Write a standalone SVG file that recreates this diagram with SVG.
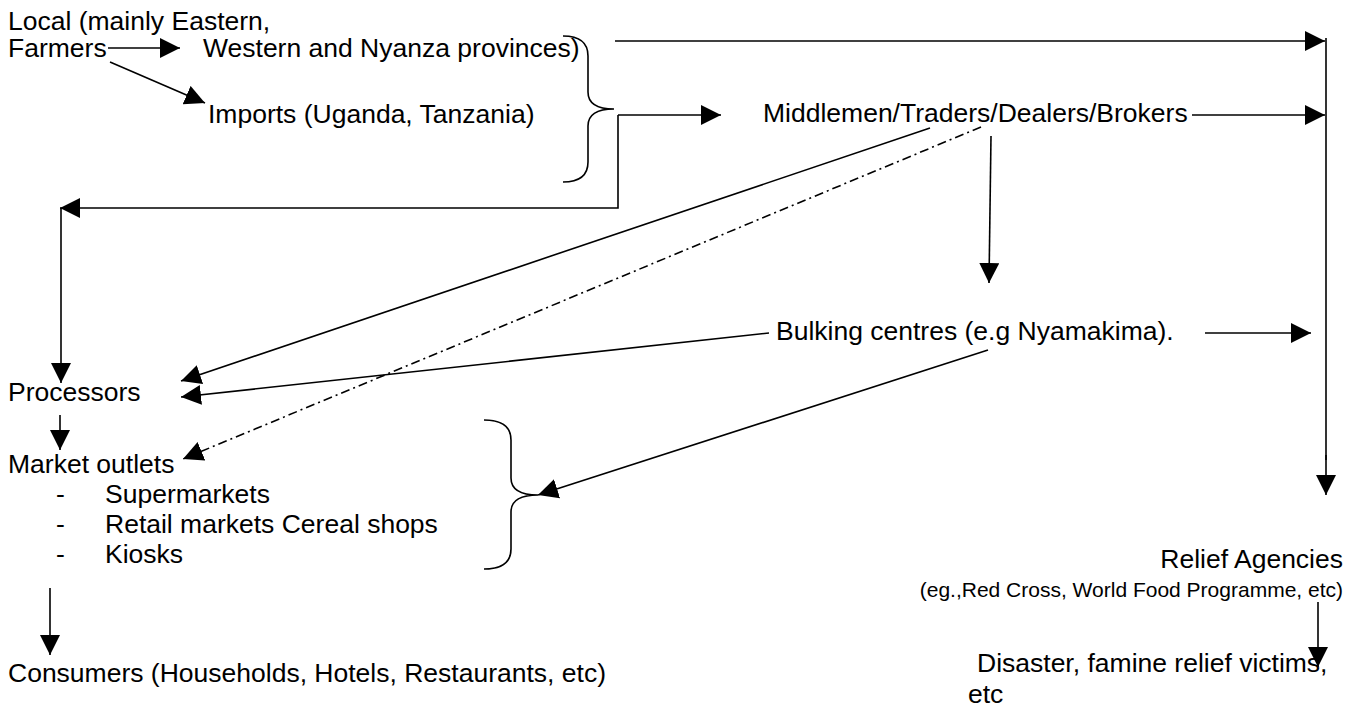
<svg xmlns="http://www.w3.org/2000/svg" width="1361" height="715" viewBox="0 0 1361 715">
<style>
text { font-family: "Liberation Sans", Arial, sans-serif; font-size: 26.5px; fill: #000; }
.small { font-size: 21px; }
.ln { stroke: #000; stroke-width: 1.6; fill: none; }
.arr { marker-end: url(#ah); }
.dd { stroke-dasharray: 9 4 2 4; }
</style>
<defs>
<marker id="ah" markerUnits="userSpaceOnUse" markerWidth="22" markerHeight="22" refX="20" refY="10" orient="auto" viewBox="0 0 22 22">
<path d="M0,0 L20,10 L0,20 z" fill="#000"/>
</marker>
</defs>
<rect width="1361" height="715" fill="#fff"/>

<g id="connectors">
<line class="ln arr" x1="108" y1="48" x2="180" y2="48"/>
<line class="ln arr" x1="110" y1="62" x2="205" y2="103"/>
<path class="ln" d="M563,36 Q588,36 588,56 L588,92 Q588,109 614,109 Q588,109 588,126 L588,162 Q588,182 563,182"/>
<line class="ln arr" x1="615" y1="41" x2="1325" y2="41"/>
<line class="ln arr" x1="618" y1="115" x2="721" y2="115"/>
<path class="ln arr" d="M618,115 V208 H60"/>
<line class="ln arr" x1="61" y1="208" x2="61" y2="383"/>
<line class="ln" x1="1326" y1="38" x2="1326" y2="460"/>
<line class="ln arr" x1="1326" y1="455" x2="1326" y2="495"/>
<line class="ln arr" x1="1192" y1="115" x2="1325" y2="115"/>
<line class="ln arr" x1="930" y1="128" x2="181" y2="381"/>
<line class="ln arr dd" x1="981" y1="127" x2="183" y2="459"/>
<line class="ln arr" x1="991" y1="136" x2="989" y2="283"/>
<line class="ln arr" x1="769" y1="333" x2="181" y2="397"/>
<line class="ln arr" x1="1205" y1="333" x2="1311" y2="333"/>
<line class="ln arr" x1="988" y1="350" x2="538" y2="495"/>
<line class="ln arr" x1="60" y1="415" x2="60" y2="450"/>
<path class="ln" d="M484,420 Q511,420 511,440 L511,478 Q511,495 538,495 Q511,495 511,512 L511,549 Q511,569 484,569"/>
<line class="ln arr" x1="50" y1="588" x2="50" y2="655"/>
<line class="ln arr" x1="1318" y1="602" x2="1318" y2="667"/>
</g>

<g id="farmers">
<text x="8" y="30">Local (mainly Eastern,</text>
<text x="8" y="57">Farmers</text>
</g>
<g id="local">
<text x="203" y="57">Western and Nyanza provinces)</text>
</g>
<g id="imports">
<text x="208" y="123">Imports (Uganda, Tanzania)</text>
</g>
<g id="middlemen">
<text x="763" y="122">Middlemen/Traders/Dealers/Brokers</text>
</g>
<g id="bulking">
<text x="776" y="340">Bulking centres (e.g Nyamakima).</text>
</g>
<g id="processors">
<text x="8" y="401">Processors</text>
</g>
<g id="market-outlets">
<text x="8" y="473">Market outlets</text>
<text x="56" y="503">-</text><text x="105" y="503">Supermarkets</text>
<text x="56" y="533">-</text><text x="105" y="533">Retail markets Cereal shops</text>
<text x="56" y="563">-</text><text x="105" y="563">Kiosks</text>
</g>
<g id="consumers">
<text x="8" y="682">Consumers (Households, Hotels, Restaurants, etc)</text>
</g>
<g id="relief-agencies">
<text x="1343" y="568" text-anchor="end">Relief Agencies</text>
<text class="small" x="1343" y="597" text-anchor="end">(eg.,Red Cross, World Food Programme, etc)</text>
</g>
<g id="victims">
<text x="977" y="672">Disaster, famine relief victims,</text>
<text x="968" y="703">etc</text>
</g>
</svg>
